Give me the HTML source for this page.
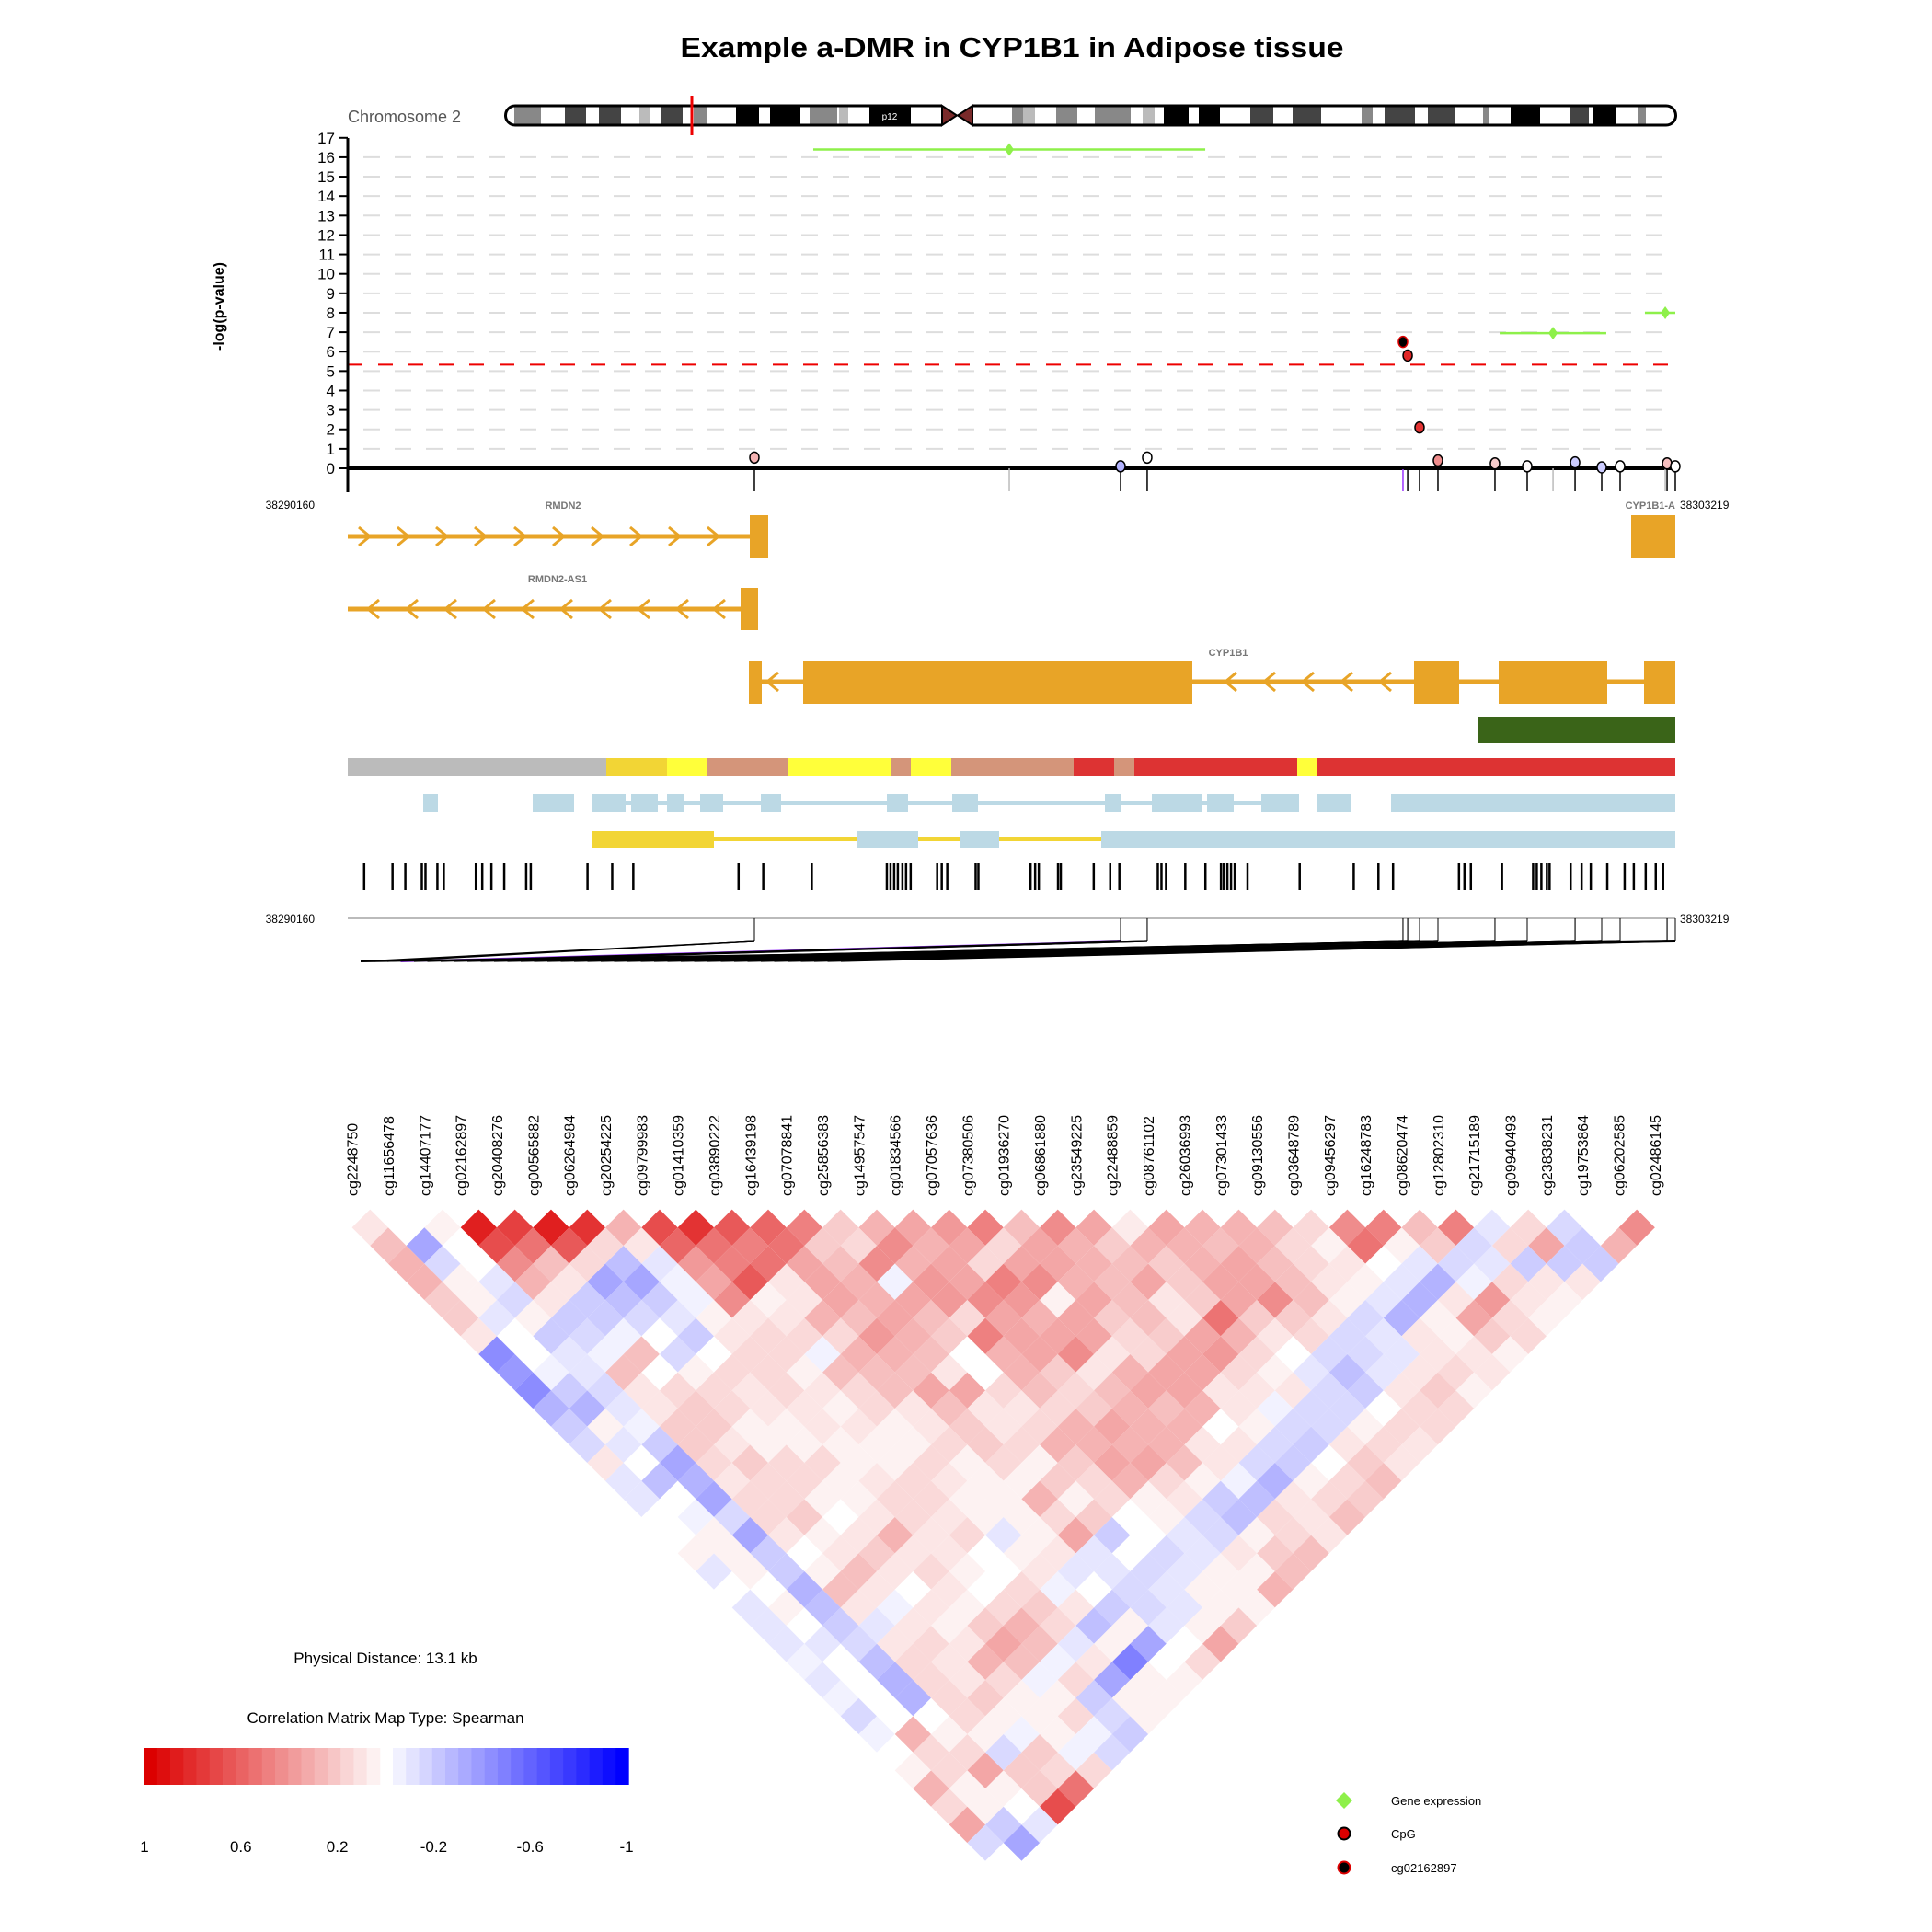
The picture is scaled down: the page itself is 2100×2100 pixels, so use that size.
<!DOCTYPE html>
<html><head><meta charset="utf-8"><title>Example a-DMR in CYP1B1 in Adipose tissue</title>
<style>html,body{margin:0;padding:0;background:#fff}svg{display:block;font-family:"Liberation Sans",Arial,sans-serif}</style>
</head><body>
<svg id="chart" xmlns="http://www.w3.org/2000/svg" width="2100" height="2100" viewBox="0 0 2100 2100">
<rect x="0" y="0" width="2100" height="2100" fill="#fff"/>
<text x="1100" y="62" text-anchor="middle" font-size="31" font-weight="bold" textLength="721" lengthAdjust="spacingAndGlyphs">Example a-DMR in CYP1B1 in Adipose tissue</text>
<text x="378" y="133" font-size="18" fill="#555">Chromosome 2</text>
<g id="ideo"></g>
<text transform="translate(243,333) rotate(-90)" text-anchor="middle" font-size="16" font-weight="bold">-log(p-value)</text>
<g id="plot"></g>
<g id="tracks"></g>
<g id="heat"></g>
<text x="419" y="1808" text-anchor="middle" font-size="17">Physical Distance: 13.1 kb</text>
<text x="419" y="1873" text-anchor="middle" font-size="17">Correlation Matrix Map Type: Spearman</text>
<g id="legend"></g>
<g>
<polygon points="1461,1948 1470,1957 1461,1966 1452,1957" fill="#8ef04a"/>
<text x="1512" y="1962" font-size="13">Gene expression</text>
<circle cx="1461" cy="1993" r="6.5" fill="#dd0000" stroke="#000" stroke-width="2"/>
<text x="1512" y="1998" font-size="13">CpG</text>
<circle cx="1461" cy="2030" r="6.5" fill="#000" stroke="#dd0000" stroke-width="2"/>
<text x="1512" y="2035" font-size="13">cg02162897</text>
</g>
</svg>
<script>
// ---------- data ----------
const yTicks = [0,1,2,3,4,5,6,7,8,9,10,11,12,13,14,15,16,17];
const threshold = 5.33;
const regionStart = 38290160;
const regionEnd = 38303219;
const cpgOffsets = [4000,7602,7864,10380,10426,10543,10724,11285,11602,12073,12335,12516,12978,13059];
const cpgPvals = [0.55,0.1,0.55,6.5,5.8,2.1,0.4,0.25,0.1,0.3,0.05,0.1,0.25,0.1];
const cpgCorr = [0.3,-0.3,0.0,1,0.85,0.8,0.45,0.2,0.02,-0.2,-0.2,0.0,0.25,0.0];
const exprOffsets = [6507,11856,12960];
const exprStart = [4579,11331,12760];
const exprEnd = [8435,12380,13059];
const exprPvals = [16.4,6.95,8.0];
const cpgNames = ["cg2248750","cg11656478","cg14407177","cg02162897","cg20408276","cg00565882","cg06264984","cg20254225","cg09799983","cg01410359","cg03890222","cg16439198","cg07078841","cg25856383","cg14957547","cg01834566","cg07057636","cg07380506","cg01936270","cg06861880","cg23549225","cg22488859","cg08761102","cg26036993","cg07301433","cg09130556","cg03648789","cg09456297","cg16248783","cg08620474","cg12802310","cg21715189","cg09940493","cg23838231","cg19753864","cg06202585","cg02486145"];
const corrD1 = [.1,0,.05,.88,.75,.88,.8,.3,.7,.8,.65,.6,.5,.2,.3,.35,.4,.5,.25,.45,.35,.08,.35,.3,.3,.25,.15,.45,.5,.25,.5,-.1,.15,-.15,0,.45];
const corrD2 = [.25,-.35,0,.7,.55,.65,.15,.1,.6,.55,.5,.55,.2,.15,.45,.3,.35,.15,.35,.3,.2,.3,.3,.25,.3,.15,.05,.55,.05,.2,-.15,.15,.35,-.2,.3];
const corrD3 = [.3,-.15,0,.45,.25,.15,-.25,-.1,.4,.5,.55,.35,.25,.45,.3,.35,.15,.35,.35,.3,.25,.2,.3,.35,.25,.15,.1,0,-.1,-.15,-.1,-.2,-.2,-.2];
const corrD4 = [.3,.05,-.1,.3,.1,-.35,-.35,-.05,.35,.65,.1,.35,.3,-.05,.4,.35,.5,.45,.3,.25,.35,.2,.35,.35,.25,.1,.05,-.1,-.3,-.05,.15,.1,.1];
const corrD5 = [.2,.05,-.15,.1,-.2,-.25,-.2,-.05,.45,.05,.1,.35,.3,.35,.4,.45,.4,.05,.35,.25,.1,.2,.35,.45,.25,.05,-.1,-.3,.1,.4,.1,.05];
const corrD6 = [.2,-.1,.05,-.2,-.2,-.15,-.1,.05,.1,.1,.3,.25,.35,.25,.15,.35,.3,.35,.2,.25,.1,.55,.2,.2,.1,-.15,-.3,.05,.35,.15,.05];
const corrD7 = [.1,0,-.2,-.15,-.05,0,-.2,.1,.15,.15,.15,.4,.3,.2,.5,.35,.35,.35,.15,.2,.35,.3,.1,.15,-.15,-.1,.1,.05,.2,.15];
const corrD8 = [-.45,0,-.1,-.05,.25,-.15,0,.15,.15,-.05,.3,.3,.25,0,.3,.35,.45,.1,.15,.35,.4,.15,0,-.15,-.15,-.1,.1,.1,.05];
const corrD9 = [-.4,-.05,-.1,.25,0,.05,.15,.15,.05,.25,.25,.25,.1,0,.3,.2,.1,.3,.35,.35,.15,.05,-.1,-.25,-.1,.1,.15,.1];
const corrD10 = [-.45,-.2,-.15,.1,.15,.15,.1,.15,.1,.15,.25,.35,.35,.15,.25,.15,.25,.35,.35,.1,.1,.1,-.15,-.2,.1,.2,.05];
const corrD11 = [-.3,-.3,-.1,.1,.2,.15,.1,.1,.05,.15,.1,.25,.1,.1,.15,.2,.3,.25,.3,.1,-.05,-.15,-.15,0,.15,.15];
const corrD12 = [-.2,.05,-.05,.2,.2,.05,.05,.1,.1,.05,.1,.2,.1,.15,.3,.35,.3,.3,0,.05,-.15,-.15,.05,.15,.15];
const corrD13 = [-.15,-.1,-.2,.2,.1,.05,.05,.05,.05,.05,.15,.2,.15,.3,.3,.3,.3,.1,.1,-.15,-.2,.1,.15,.1];
const corrD14 = [.1,0,-.35,.15,.2,.15,.15,.05,.05,.15,.05,.15,.05,.2,.35,.35,.25,.1,-.15,-.2,0,.2,.1];
const corrD15 = [-.1,-.25,-.3,.1,.15,.15,.05,.1,.15,.1,.05,.05,.2,.15,.3,.15,.05,-.05,-.3,.05,.15,.25];
const corrD16 = [-.1,0,-.35,.15,.15,.05,.05,.15,.15,.05,.05,.3,.05,.15,.05,.1,-.2,-.25,.1,.15,.2];
const corrD17 = [0,-.05,-.15,.15,.2,0,.1,.15,.1,.05,.05,.15,.2,0,.05,-.15,-.25,.15,.1,.25];
const corrD18 = [0,.05,-.35,.1,.05,.1,.3,.1,.15,-.1,.05,.35,-.2,0,-.1,-.15,.05,.15,.1];
const corrD19 = [.05,.05,-.2,0,.1,.2,.1,.1,0,.05,.1,-.1,0,-.15,-.1,.1,.2,.25];
const corrD20 = [-.1,.05,-.2,.05,.25,.1,.15,.05,0,.1,-.1,-.1,-.15,-.1,.05,.05,.25];
const corrD21 = [0,0,-.3,.25,.1,0,.1,0,.15,-.05,0,-.15,-.1,.05,.05,.3];
const corrD22 = [-.1,.05,-.25,.1,-.05,.1,.05,.15,.2,.1,-.2,-.15,-.1,.05,.05];
const corrD23 = [-.1,0,-.2,-.1,.1,.05,.2,.3,.15,-.25,.05,-.1,.05,.2];
const corrD24 = [-.1,-.1,-.15,.1,.15,.1,.35,.25,-.1,.05,-.35,0,.35];
const corrD25 = [-.05,0,-.25,.15,.1,.3,.25,-.05,.1,-.5,0,.15];
const corrD26 = [-.1,0,-.3,.15,.1,.15,-.05,.15,-.35,.05,.05];
const corrD27 = [-.05,0,-.3,.15,.2,.05,.05,-.2,.05,.05];
const corrD28 = [-.15,0,0,.15,.05,.05,.15,-.15,.05];
const corrD29 = [-.05,.3,.05,.05,-.05,.05,-.05,-.2];
const corrD30 = [0,.15,.15,-.15,.2,-.05,-.15];
const corrD31 = [.05,.15,.35,.2,.15,.15];
const corrD32 = [.3,.05,.05,.2,.55];
const corrD33 = [.15,.05,0,.7];
const corrD34 = [.35,-.2,-.1];
const corrD35 = [-.15,-.35];
const corrD36 = [0];
const corrRows = [corrD1,corrD2,corrD3,corrD4,corrD5,corrD6,corrD7,corrD8,corrD9,corrD10,corrD11,corrD12,corrD13,corrD14,corrD15,corrD16,corrD17,corrD18,corrD19,corrD20,corrD21,corrD22,corrD23,corrD24,corrD25,corrD26,corrD27,corrD28,corrD29,corrD30,corrD31,corrD32,corrD33,corrD34,corrD35,corrD36];
const legendTicks = ["1","0.6","0.2","-0.2","-0.6","-1"];

// ---------- helpers ----------
const NS = "http://www.w3.org/2000/svg";
function mk(parent, tag, attrs){const e=document.createElementNS(NS,tag);for(const k in attrs)e.setAttribute(k,attrs[k]);parent.appendChild(e);return e;}
const yS = v => 509 - v*21.13;
const gX = off => 378 + off*(1443/(regionEnd-regionStart));
function corrColor(v){
  if(v>=0){const r=Math.round(255-35*v),g=Math.round(255-255*v);return `rgb(${r},${g},${g})`;}
  const t=-v;const c=Math.round(255-255*t);return `rgb(${c},${c},255)`;
}
const ideo=document.getElementById('ideo'), plot=document.getElementById('plot'), tracks=document.getElementById('tracks'), heat=document.getElementById('heat'), legend=document.getElementById('legend');

// ---------- ideogram ----------
const bandX0=[559,614,651,695,718,754,800,837,880,912,945,1100,1112,1148,1190,1242,1265,1303,1359,1405,1480,1505,1552,1612,1642,1707,1731,1780];
const bandX1=[588,637,675,707,742,768,825,870,910,922,990,1112,1125,1171,1229,1255,1292,1326,1384,1436,1492,1538,1581,1619,1674,1727,1756,1789];
const bandFill=['#888','#444','#444','#bbb','#444','#888','#000','#000','#888','#bbb','#000','#888','#bbb','#888','#888','#bbb','#000','#000','#444','#444','#888','#444','#444','#888','#000','#444','#000','#888'];
{const b=mk(ideo,'rect',{x:550,y:115,width:1271,height:21,rx:10,fill:'#fff'});

}
for(let i=0;i<bandX0.length;i++){
  const r=mk(ideo,'rect',{x:bandX0[i],y:116,width:bandX1[i]-bandX0[i],height:19,fill:bandFill[i]});
  
  
}
{const t=mk(ideo,'text',{x:967,y:130,'font-size':10,fill:'#fff','text-anchor':'middle'});t.textContent='p12';

}
{const o=mk(ideo,'path',{d:'M1024,115 L560,115 A10,10 0 0 0 560,136 L1024,136 M1057,115 L1811,115 A10,10 0 0 1 1811,136 L1057,136',fill:'none',stroke:'#000','stroke-width':3});


const c=mk(ideo,'path',{d:'M1024,115 L1040,125.5 L1024,136 Z M1057,115 L1041,125.5 L1057,136 Z',fill:'#7a2a2a',stroke:'#000','stroke-width':2});


const m=mk(ideo,'line',{x1:752,y1:104,x2:752,y2:147,stroke:'#e00','stroke-width':3});

}

// ---------- manhattan plot ----------
yTicks.forEach(v=>{
  if(v>0&&v<17){const g=mk(plot,'line',{x1:395,x2:1821,y1:yS(v),y2:yS(v),stroke:'#ddd','stroke-width':2,'stroke-dasharray':'18 16'});
  
  }
  const t=mk(plot,'line',{x1:369,x2:378,y1:yS(v),y2:yS(v),stroke:'#000','stroke-width':2});
  
  
  const l=mk(plot,'text',{x:364,y:yS(v)+6,'text-anchor':'end','font-size':17});l.textContent=v;
  
  
});
{const th=mk(plot,'line',{x1:378,x2:1821,y1:yS(threshold),y2:yS(threshold),stroke:'#e00','stroke-width':2,'stroke-dasharray':'16 17'});


const ax=mk(plot,'line',{x1:378,x2:378,y1:150,y2:535,stroke:'#000','stroke-width':3});


const bl=mk(plot,'line',{x1:378,x2:1822,y1:509,y2:509,stroke:'#000','stroke-width':4});

}
exprOffsets.forEach((o,i)=>{
  const st=mk(plot,'line',{x1:gX(o),x2:gX(o),y1:509,y2:534,stroke:'#bbb','stroke-width':1.5});
  
  
  const ln=mk(plot,'line',{x1:gX(exprStart[i]),x2:gX(exprEnd[i]),y1:yS(exprPvals[i]),y2:yS(exprPvals[i]),stroke:'#8ef04a','stroke-width':2.5});
  
  
  const x=gX(o),y=yS(exprPvals[i]);
  const d=mk(plot,'polygon',{points:`${x},${y-7} ${x+5},${y} ${x},${y+7} ${x-5},${y}`,fill:'#8ef04a'});
  
  
});
cpgOffsets.forEach((o,i)=>{
  const x=gX(o), y=yS(cpgPvals[i]);
  const lead = i===3;
  const st=mk(plot,'line',{x1:x,x2:x,y1:510,y2:534,stroke:lead?'#9933ff':'#000','stroke-width':1.5});
  
  
  const c=mk(plot,'ellipse',{cx:x,cy:y,rx:5,ry:6,fill:lead?'#000':corrColor(cpgCorr[i]),stroke:lead?'#dd0000':'#000','stroke-width':1.5});
  
  
});

// ---------- tracks ----------
function txt(p,x,y,s,anchor,size,fill,bold){const t=mk(p,'text',{x:x,y:y,'text-anchor':anchor,'font-size':size,fill:fill,'font-weight':bold?'bold':'normal'});t.textContent=s;return t;}
{let t;
t=txt(tracks,342,553,'38290160','end',12,'#000',false);
t=txt(tracks,1826,553,'38303219','start',12,'#000',false);
t=txt(tracks,342,1003,'38290160','end',12,'#000',false);
t=txt(tracks,1826,1003,'38303219','start',12,'#000',false);
t=txt(tracks,612,553,'RMDN2','middle',11,'#777',true);
t=txt(tracks,1821,553,'CYP1B1-A','end',11,'#777',true);
t=txt(tracks,606,633,'RMDN2-AS1','middle',11,'#777',true);
t=txt(tracks,1335,713,'CYP1B1','middle',11,'#777',true);}
const OR='#e8a427';
function rect(p,x0,x1,y0,y1,fill,name){const r=mk(p,'rect',{x:x0,y:y0,width:x1-x0,height:y1-y0,fill:fill});return r;}
function hline(p,x0,x1,y,col,w,name){const l=mk(p,'line',{x1:x0,x2:x1,y1:y,y2:y,stroke:col,'stroke-width':w});return l;}
function chevrons(p,xs,y,dir){xs.forEach(x=>{const c=mk(p,'polyline',{points:`${x-6*dir},${y-10} ${x+6*dir},${y} ${x-6*dir},${y+10}`,fill:'none',stroke:OR,'stroke-width':3});

});}
hline(tracks,378,815,583,OR,5,'rmdn2-intron');
chevrons(tracks,[396,438,480,522,565,607,649,691,733,775],583,1);
rect(tracks,815,835,560,606,OR,'rmdn2-exon');
rect(tracks,1773,1821,560,606,OR,'cyp1b1-as-exon');
hline(tracks,378,805,662,OR,5,'rmdn2-as1-intron');
chevrons(tracks,[406,448,490,532,574,616,658,700,742,782],662,-1);
rect(tracks,805,824,639,685,OR,'rmdn2-as1-exon');
hline(tracks,828,1821,741,OR,5,'cyp1b1-intron');
chevrons(tracks,[840,1338,1380,1422,1464,1506],741,-1);
rect(tracks,814,828,718,765,OR,'cyp1b1-exon');
rect(tracks,873,1296,718,765,OR,'cyp1b1-exon');
rect(tracks,1537,1586,718,765,OR,'cyp1b1-exon');
rect(tracks,1629,1747,718,765,OR,'cyp1b1-exon');
rect(tracks,1787,1821,718,765,OR,'cyp1b1-exon');
rect(tracks,1607,1821,779,808,'#3a6418','cpg-island');
const chromX0=[378,659,725,769,857,968,990,1034,1167,1211,1233,1410,1432];
const chromX1=[659,725,769,857,968,990,1034,1167,1211,1233,1410,1432,1821];
const chromCol=['#bbb','#f2d535','#ffff3a','#d4957a','#ffff3a','#d4957a','#ffff3a','#d4957a','#dd3333','#d4957a','#dd3333','#ffff3a','#dd3333'];
chromX0.forEach((x,i)=>rect(tracks,x,chromX1[i],824,843,chromCol[i],'chromatin-state-segment'));
const LB='#bcd9e5';
hline(tracks,680,1371,873,LB,4,'regulatory-link-line');
const lbX0=[460,579,644,686,725,761,827,964,1035,1201,1252,1312,1371,1431,1512];
const lbX1=[476,624,680,715,744,786,849,987,1063,1218,1306,1341,1412,1469,1821];
lbX0.forEach((x,i)=>rect(tracks,x,lbX1[i],863,883,LB,'regulatory-element'));
hline(tracks,776,1197,912,'#f2d535',4,'enhancer-link-line');
rect(tracks,644,776,903,922,'#f2d535','enhancer-element');
rect(tracks,932,998,903,922,LB,'regulatory-element');
rect(tracks,1043,1086,903,922,LB,'regulatory-element');
rect(tracks,1197,1821,903,922,LB,'regulatory-element');
const tickZ=[36,67,81,99,103,116,123,158,165,175,189,213,218,280,307,330,445,472,525,607,611,615,619,624,628,633,662,667,673,704,707,764,769,773,794,797,833,851,861,903,907,912,933,955,972,975,979,983,987,1001,1058,1117,1144,1160,1232,1238,1245,1279,1313,1317,1322,1328,1331,1354,1366,1376,1394,1413,1423,1436,1447,1455];
tickZ.forEach(z=>{const x=360+z*0.995;const l=mk(tracks,'line',{x1:x,x2:x,y1:938,y2:967,stroke:'#000','stroke-width':2.5});

});
hline(tracks,378,1821,998,'#bbb',2,'genomic-axis-line');
const uniq=cpgOffsets.map(gX);
cpgNames.forEach((n,k)=>{
  const tx=uniq[Math.min(Math.floor(k*uniq.length/cpgNames.length),uniq.length-1)];
  const bx=392+k*14.5;
  const v=mk(tracks,'line',{x1:tx,x2:tx,y1:998,y2:1023,stroke:k===3?'#9933ff':'#000','stroke-width':1});
  
  
  const s=mk(tracks,'line',{x1:tx,x2:bx,y1:1023,y2:1045,stroke:k===3?'#9933ff':'#000','stroke-width':k===3?2:1.3});
  
  
});
{const e=mk(tracks,'line',{x1:392,x2:1821,y1:1045,y2:1023,stroke:'#000','stroke-width':2});

}

// ---------- heatmap ----------
const S=39.34, X0=382.6, Y1=1334.3, V=19.67, H=19.67;
const labX = k => X0 + k*S;
cpgNames.forEach((n,k)=>{
  const t=mk(heat,'text',{transform:`translate(${labX(k)+6},1300) rotate(-90)`,'text-anchor':'start','font-size':16});t.textContent=n;
  
  
});
corrRows.forEach((row,di)=>{
  const d=di+1;
  row.forEach((v,i)=>{
    const cx=(labX(i)+labX(i+d))/2, cy=Y1+V*(d-1);
    const p=mk(heat,'polygon',{points:`${cx},${cy-V} ${cx+H},${cy} ${cx},${cy+V} ${cx-H},${cy}`,fill:corrColor(v)});
    
    
  });
});

// ---------- color legend ----------
for(let j=0;j<18;j++){
  const v=1-j/18;
  const r=mk(legend,'rect',{x:156.6+j*14.24,y:1900,width:14.6,height:40,fill:corrColor(v)});
  
  
  const w=-(j+1)/18;
  const b=mk(legend,'rect',{x:427+j*14.24,y:1900,width:14.6,height:40,fill:corrColor(w)});
  
  
}
legendTicks.forEach((s,i)=>{
  const t=mk(legend,'text',{x:157+i*104.8,y:2013,'text-anchor':'middle','font-size':17});t.textContent=s;
  
  
});
</script>
</body></html>
